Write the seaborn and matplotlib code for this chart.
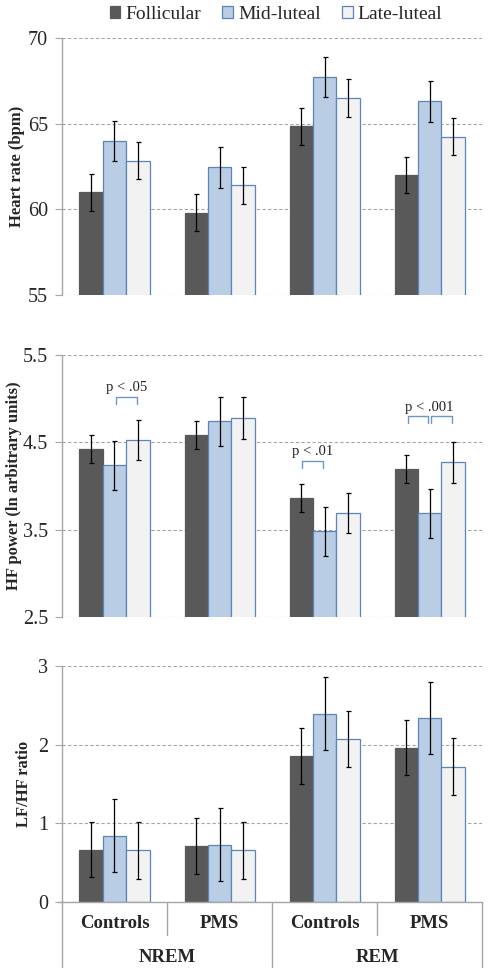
import numpy as np
import pandas as pd
import matplotlib.pyplot as plt
import matplotlib.transforms as mtransforms
from matplotlib.patches import Patch
import seaborn as sns

sns.set_theme(style="white")
plt.rcParams['font.family'] = ['Liberation Serif', 'DejaVu Serif']

STAGES = ['NREM', 'NREM', 'REM', 'REM']
GROUPS = ['Controls', 'PMS', 'Controls', 'PMS']
PHASES = ['Follicular', 'Mid-luteal', 'Late-luteal']

# rows = phase, columns = group (NREM Controls, NREM PMS, REM Controls, REM PMS)
HR_MEAN = [[61.0, 59.8, 64.85, 62.0],
           [64.0, 62.45, 67.75, 66.3],
           [62.85, 61.4, 66.5, 64.25]]
HR_ERR = [[1.07, 1.07, 1.07, 1.07],
          [1.18, 1.18, 1.17, 1.19],
          [1.08, 1.1, 1.09, 1.09]]

HF_MEAN = [[4.42, 4.58, 3.86, 4.19],
           [4.24, 4.74, 3.48, 3.69],
           [4.53, 4.78, 3.69, 4.27]]
HF_ERR = [[0.16, 0.16, 0.16, 0.16],
          [0.28, 0.28, 0.28, 0.28],
          [0.23, 0.24, 0.23, 0.23]]

LF_MEAN = [[0.665, 0.71, 1.855, 1.96],
           [0.845, 0.73, 2.395, 2.34],
           [0.655, 0.655, 2.07, 1.72]]
LF_ERR = [[0.35, 0.36, 0.36, 0.35],
          [0.46, 0.46, 0.46, 0.46],
          [0.36, 0.36, 0.36, 0.365]]

# significance brackets on the HF panel
SIG_TEXT = ['p < .05', 'p < .01', 'p < .001']
SIG_GROUP = [0, 2, 3]
SIG_PAIRS = [[(1, 2)], [(0, 1)], [(0, 1), (1, 2)]]
SIG_LEVEL = [5.02, 4.29, 4.80]

FILLS = ['#595959', '#b9cde5', '#f2f2f2']
EDGES = ['#595959', '#5b84bb', '#5b84bb']
GRID = '#a6a6a6'
KEYS = [f'{s} {g}' for s, g in zip(STAGES, GROUPS)]


def make_frame(means, errs):
    rows = []
    for phase, m_row, e_row in zip(PHASES, means, errs):
        for key, m, e in zip(KEYS, m_row, e_row):
            rows.append({'Group': key, 'Phase': phase, 'Value': m, 'Err': e})
    return pd.DataFrame(rows)


def draw_panel(ax, means, errs, ylim, yticks, ylabel, label_x):
    df = make_frame(means, errs)
    sns.barplot(data=df, x='Group', y='Value', hue='Phase', order=KEYS, hue_order=PHASES,
                palette=FILLS, saturation=1, width=0.667, errorbar=None, legend=False, ax=ax)
    centers = {}
    for p, (container, edge) in enumerate(zip(ax.containers, EDGES)):
        for bar in container:
            x = bar.get_x() + bar.get_width() / 2
            j = int(round(x))
            bar.set_edgecolor(edge)
            bar.set_linewidth(0.9)
            ax.errorbar(x, bar.get_height(), yerr=errs[p][j], fmt='none', ecolor='black',
                        elinewidth=0.9, capsize=1.8, capthick=0.9, zorder=4)
            centers[(p, j)] = x
    ax.set_xlim(-0.5, 3.5)
    ax.set_ylim(*ylim)
    ax.set_yticks(yticks)
    ax.yaxis.grid(True, linestyle=(0, (3, 2)), color=GRID, linewidth=0.8)
    ax.set_axisbelow(True)
    for s in ['top', 'right', 'bottom']:
        ax.spines[s].set_visible(False)
    ax.spines['left'].set_color(GRID)
    ax.spines['left'].set_linewidth(1)
    ax.tick_params(axis='y', left=True, length=5, width=0.8, color=GRID, labelsize=14.5, pad=5)
    ax.tick_params(axis='x', bottom=False)
    ax.set_xticklabels([])
    ax.set_xlabel('')
    ax.set_ylabel(ylabel, fontsize=12, fontweight='bold')
    ax.yaxis.set_label_coords(label_x, 0.5)
    return centers


fig = plt.figure(figsize=(4.88, 9.72), dpi=100)
ax1 = fig.add_axes([0.127, 0.6965, 0.861, 0.2644])
ax2 = fig.add_axes([0.127, 0.3652, 0.861, 0.2695])
ax3 = fig.add_axes([0.127, 0.0720, 0.861, 0.2428])

draw_panel(ax1, HR_MEAN, HR_ERR, (55, 70), [55, 60, 65, 70], 'Heart rate (bpm)', -0.089)
centers = draw_panel(ax2, HF_MEAN, HF_ERR, (2.5, 5.5), [2.5, 3.5, 4.5, 5.5],
                     'HF power (ln arbitrary units)', -0.096)
draw_panel(ax3, LF_MEAN, LF_ERR, (0, 3), [0, 1, 2, 3], 'LF/HF ratio', -0.071)

# brackets with p values
for text, g, pairs, level in zip(SIG_TEXT, SIG_GROUP, SIG_PAIRS, SIG_LEVEL):
    xs = []
    for a, b in pairs:
        x0 = centers[(a, g)] + 0.012
        x1 = centers[(b, g)] - 0.012
        ax2.plot([x0, x0, x1, x1], [level - 0.08, level, level, level - 0.08],
                 color='#6f96c9', linewidth=1.0, zorder=5)
        xs += [centers[(a, g)], centers[(b, g)]]
    ax2.text((min(xs) + max(xs)) / 2, level + 0.105, text, ha='center', va='center',
             fontsize=10.5, color='#222222')

# bottom axis: two-level category labels
ax3.spines['bottom'].set_visible(True)
ax3.spines['bottom'].set_color(GRID)
ax3.spines['bottom'].set_linewidth(1)
ax3.set_xticks(range(len(GROUPS)))
ax3.set_xticklabels(GROUPS, fontsize=13.5, fontweight='bold')
ax3.tick_params(axis='x', length=0, pad=9)
trans = mtransforms.blended_transform_factory(ax3.transData, ax3.transAxes)
ax3.plot([-0.54, -0.5], [0, 0], color=GRID, linewidth=1, transform=trans, clip_on=False)
for xb in [0.5, 2.5]:
    ax3.plot([xb, xb], [0, -0.14], color=GRID, linewidth=1, transform=trans, clip_on=False)
for xb in [-0.5, 1.5, 3.5]:
    ax3.plot([xb, xb], [0, -0.275], color=GRID, linewidth=1, transform=trans, clip_on=False)
stage_names = list(dict.fromkeys(STAGES))
for s in stage_names:
    idx = [i for i, v in enumerate(STAGES) if v == s]
    ax3.text(np.mean(idx), -0.237, s, transform=trans, ha='center', va='center',
             fontsize=13.5, fontweight='bold')

handles = [Patch(facecolor=f, edgecolor=e, linewidth=0.9) for f, e in zip(FILLS, EDGES)]
fig.legend(handles, PHASES, loc='upper center', bbox_to_anchor=(276 / 488, 1 - 4 / 972),
           ncol=3, frameon=False, fontsize=14, handlelength=0.55, handleheight=0.55,
           handletextpad=0.25, columnspacing=1.1, borderaxespad=0, borderpad=0.1)

plt.savefig('out.png', dpi=100)
plt.close()
